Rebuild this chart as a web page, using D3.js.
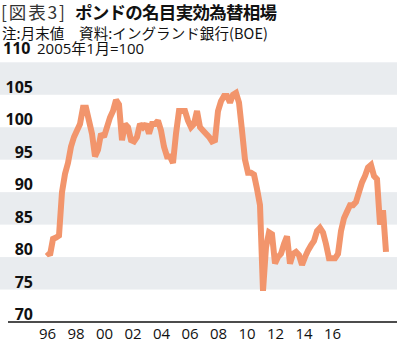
<!DOCTYPE html>
<html><head><meta charset="utf-8">
<script src="https://cdn.jsdelivr.net/npm/d3@7"></script>
<style>
html,body{margin:0;padding:0;background:#fff;}
svg{display:block;}
</style></head>
<body>
<svg id="c" width="406" height="347"></svg>
<script>
// ---- data ----
const titleNote = "[図表3]";
const titleMain = "ポンドの名目実効為替相場";
const noteText = "注:月末値　資料:イングランド銀行(BOE)";
const unitText = "2005年1月=100";
const xTickLabels = ["96","98","00","02","04","06","08","10","12","14","16"];
const yTicks = [70,75,80,85,90,95,100,105,110];
// GBP nominal effective exchange rate, evenly spaced samples along the time axis
const eriValues = [
 80.8, 80.3, 82.8, 83.0, 83.3, 90.0, 92.8, 94.5, 97.0, 98.5,
 99.5, 100.5, 103.0, 103.0, 101.0, 99.0, 95.5, 96.5, 99.0, 98.5,
 100.0, 101.5, 102.5, 104.2, 103.5, 98.0, 100.5, 100.0, 98.0, 97.8,
 98.5, 100.5, 100.0, 100.5, 99.0, 100.5, 100.5, 101.0, 99.5, 97.0,
 95.5, 95.5, 94.5, 99.0, 102.5, 102.5, 102.5, 101.0, 100.0, 100.5,
 102.5, 100.0, 99.5, 99.0, 98.5, 97.8, 98.0, 102.5, 104.0, 104.8,
 104.8, 103.8, 105.0, 105.3, 103.8, 99.5, 95.0, 93.0, 93.0, 92.7,
 90.5, 88.0, 74.8, 81.5, 83.8, 83.5, 79.0, 80.0, 80.5, 82.0,
 83.2, 79.0, 80.5, 80.8, 80.3, 78.8, 80.0, 81.0, 81.8, 82.5,
 84.0, 84.5, 83.8, 82.0, 79.8, 79.8, 79.8, 80.5, 84.0, 86.0,
 87.0, 88.0, 88.0, 88.5, 90.0, 91.5, 92.5, 93.8, 94.2, 92.5,
 92.0, 85.0, 87.2, 80.8
];

// ---- layout ----
const svg = d3.select("#c");
const bandLeft = 0, plotRight = 397, axisLeft = 8;
const y = d3.scaleLinear().domain([70,110]).range([322, 62.3]);
const x = d3.scaleLinear().domain([0, eriValues.length-1]).range([47, 386]);
const xt = d3.scalePoint().domain(xTickLabels).range([47, 332]);

const cjk = "'Noto Sans CJK JP', sans-serif";
const lat = "'Open Sans', 'Noto Sans CJK JP', sans-serif";

// bands
const bandStarts = [75,85,95,105];
svg.append("g").selectAll("rect").data(bandStarts).join("rect")
  .attr("x", bandLeft).attr("width", plotRight - bandLeft)
  .attr("y", d => y(d+5)).attr("height", d => y(d) - y(d+5))
  .attr("fill", "#e9ecef");

// line
const line = d3.line().x((d,i) => x(i)).y(d => y(d)).curve(d3.curveLinear);
svg.append("path").datum(eriValues)
  .attr("d", line).attr("fill","none")
  .attr("stroke","#f2956c").attr("stroke-width",6)
  .attr("stroke-linejoin","miter").attr("stroke-miterlimit",2);

// axis line
svg.append("line").attr("x1", axisLeft).attr("x2", plotRight)
  .attr("y1", y(70)).attr("y2", y(70)).attr("stroke","#111").attr("stroke-width",1.5);

// y labels
svg.append("g").selectAll("text").data(yTicks.filter(d => d !== 110)).join("text")
  .attr("x", 33).attr("y", d => y(d) - 2)
  .attr("text-anchor","end")
  .attr("font-family", lat).attr("font-weight", 700).attr("font-size", 16)
  .attr("fill","#111").text(d => d);

// 110 label + unit
svg.append("text").attr("x", 3).attr("y", 54)
  .attr("font-family", lat).attr("font-weight", 700).attr("font-size", 16)
  .attr("fill","#111").text(yTicks[yTicks.length-1]);
svg.append("text").attr("x", 37).attr("y", 54)
  .attr("font-family", lat).attr("font-size", 15)
  .attr("fill","#111").text(unitText);

// x labels
const xAxis = svg.append("g").attr("transform", `translate(0,${y(70)})`)
  .call(d3.axisBottom(xt).tickSize(0).tickPadding(0));
xAxis.select(".domain").remove();
xAxis.selectAll("text").attr("y", 17).attr("dy", null)
  .attr("font-family", lat).attr("font-size", 15).attr("fill", "#111");

// titles
svg.append("text").attr("x", 1).attr("y", 19)
  .attr("font-family", cjk).attr("font-size", 17.5).attr("fill","#333")
  .attr("textLength", 64).attr("lengthAdjust","spacing")
  .text(titleNote);
svg.append("text").attr("x", 75).attr("y", 19)
  .attr("font-family", cjk).attr("font-weight", 700).attr("font-size", 17.5)
  .attr("fill","#111").attr("textLength", 202).attr("lengthAdjust","spacing")
  .text(titleMain);
svg.append("text").attr("x", 2).attr("y", 38.5)
  .attr("font-family", cjk).attr("font-size", 14.5).attr("fill","#111")
  .attr("textLength", 266).attr("lengthAdjust","spacing")
  .text(noteText);
</script>
</body></html>
